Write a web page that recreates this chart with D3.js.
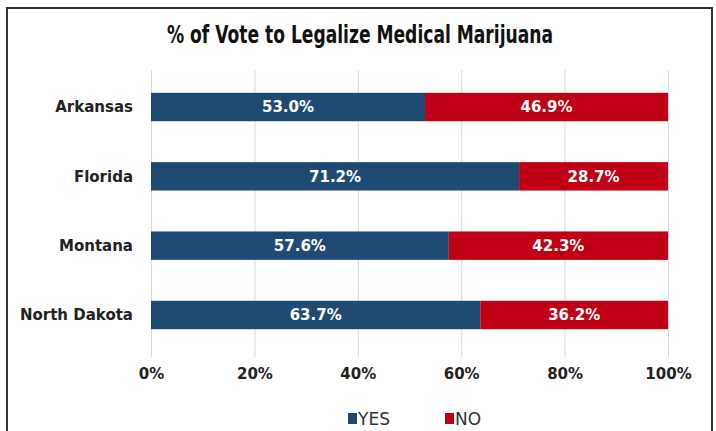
<!DOCTYPE html>
<html><head><meta charset="utf-8">
<script src="https://cdn.jsdelivr.net/npm/d3@7"></script>
<style>
body{margin:0;background:#fff;}
svg text{font-family:"DejaVu Sans",sans-serif;}
</style></head>
<body><svg id="c" width="716" height="431"></svg>
<script>
const states = ["Arkansas","Florida","Montana","North Dakota"];
const yesValues = [53.0, 71.2, 57.6, 63.7];
const noValues = [46.9, 28.7, 42.3, 36.2];
const tickValues = [0,20,40,60,80,100];
const seriesNames = ["YES","NO"];
const colors = ["#1F4A73","#C00014"];

const svg = d3.select("#c");
svg.append("rect").attr("x",0).attr("y",0).attr("width",716).attr("height",431).attr("fill","#fff");
// frame
svg.append("path").attr("d","M7,440 V8 H712 V440").attr("fill","none").attr("stroke","#333").attr("stroke-width",2);

const x = d3.scaleLinear().domain([0,100]).range([151,668]);
const y = d3.scaleBand().domain(states).range([72,350]).paddingInner(0.59).paddingOuter(0.3);

svg.append("text").attr("x",360).attr("y",43).attr("text-anchor","middle")
  .attr("font-size",25).attr("font-weight","bold").attr("fill","#111")
  .style("font-family","'DejaVu Sans Condensed','DejaVu Sans',sans-serif")
  .attr("textLength",386).attr("lengthAdjust","spacingAndGlyphs")
  .text("% of Vote to Legalize Medical Marijuana");

// gridlines
svg.append("g").selectAll("line").data(tickValues).join("line")
  .attr("x1",d=>x(d)+0.5).attr("x2",d=>x(d)+0.5).attr("y1",70).attr("y2",357)
  .attr("stroke","#d9d9d9").attr("stroke-width",1);

// axis labels
const ax = svg.append("g").attr("transform","translate(0,368)")
  .call(d3.axisBottom(x).tickValues(tickValues).tickFormat(d=>d+"%").tickSize(0));
ax.select(".domain").remove();
ax.selectAll("text").attr("font-size",15).attr("font-weight","bold").attr("fill","#222")
  .style("font-family","'DejaVu Sans',sans-serif").attr("y",0).attr("dy","0.73em");

const data = states.map((s,i)=>({state:s, vals:[yesValues[i], noValues[i]]}));
const g = svg.append("g");
data.forEach(d=>{
  let x0 = 0;
  d.vals.forEach((v,j)=>{
    const w = (j===1)? 100 - x0 : v;
    g.append("rect").attr("x",x(x0)).attr("y",y(d.state)).attr("width",x(x0+w)-x(x0))
      .attr("height",y.bandwidth()).attr("fill",colors[j]);
    g.append("text").attr("x",(x(x0)+x(x0+w))/2).attr("y",y(d.state)+y.bandwidth()/2)
      .attr("dy","0.36em").attr("text-anchor","middle").attr("fill","#fff")
      .attr("font-size",15).attr("font-weight","bold")
      .text(v.toFixed(1)+"%");
    x0 += w;
  });
});

// category labels
svg.append("g").selectAll("text").data(states).join("text")
  .attr("x",133).attr("y",d=>y(d)+y.bandwidth()/2).attr("dy","0.36em")
  .attr("text-anchor","end").attr("font-size",15).attr("font-weight","bold").attr("fill","#222")
  .text(d=>d);

// legend
const lx = [348, 445];
const lg = svg.append("g");
seriesNames.forEach((n,i)=>{
  lg.append("rect").attr("x",lx[i]).attr("y",413).attr("width",9).attr("height",11).attr("fill",colors[i]);
  lg.append("text").attr("x",lx[i]+10).attr("y",418.5).attr("dy","0.36em").attr("font-size",17)
    .attr("fill","#333").text(n);
});
</script></body></html>
